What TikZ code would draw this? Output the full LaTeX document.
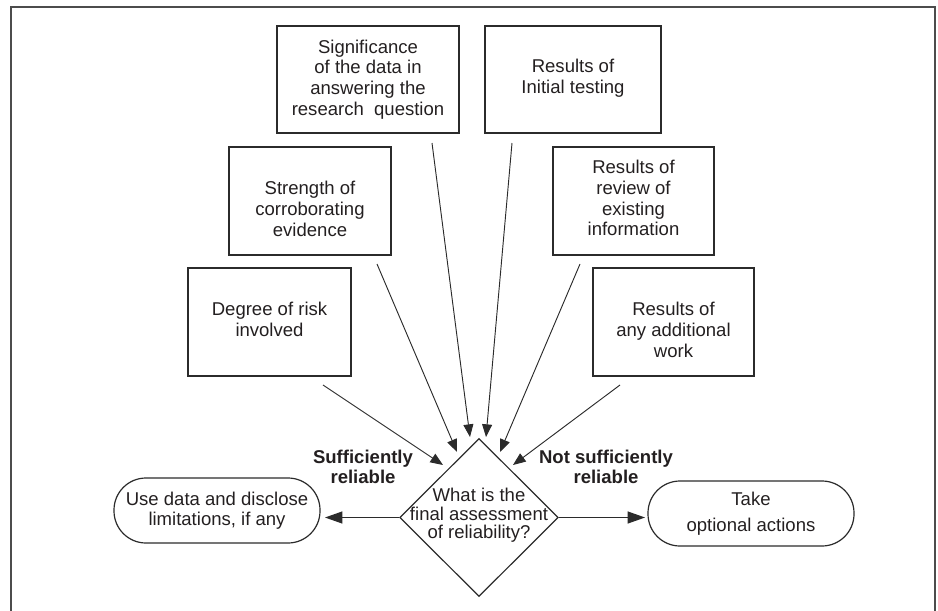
\documentclass[tikz,border=0pt]{standalone}
\usepackage{fontspec}
\setmainfont{Liberation Sans}
\usetikzlibrary{shapes.geometric,arrows.meta}
\definecolor{ink}{HTML}{231F20}
\definecolor{linec}{HTML}{2B2B2B}
\begin{document}
\begin{tikzpicture}[x=0.75pt,y=-0.75pt,
  box/.style={draw=linec,line width=0.9pt,inner sep=0pt},
  term/.style={draw=linec,line width=0.9pt,rounded corners=24pt,minimum width=154.5pt,minimum height=48.75pt,inner sep=0pt,align=center,text=ink,font=\fontsize{13.9}{15}\selectfont},
  txt/.style={inner sep=0pt,align=center,text=ink,font=\fontsize{13.9}{15.5}\selectfont},
  lbl/.style={inner sep=0pt,align=center,text=ink,font=\fontsize{13.9}{15}\selectfont\bfseries},
  arr/.style={draw=linec,line width=0.7pt,-{Triangle[length=9.5pt,width=7.5pt]}},
  harr/.style={draw=linec,line width=0.8pt,-{Triangle[length=13pt,width=9pt]}}]
\useasboundingbox (0,0) rectangle (938,610);
% frame
\draw[line width=1.2pt,color=black!70] (11,614) -- (11,7) -- (935,7) -- (935,614);

% boxes
\node[box,minimum width=136.5pt,minimum height=80.25pt] (sig) at (368,79.5) {};
\node[box,minimum width=132pt,minimum height=80.25pt] (init) at (573,79.5) {};
\node[box,minimum width=121.5pt,minimum height=81pt] (str) at (310,201) {};
\node[box,minimum width=120.75pt,minimum height=81pt] (rev) at (633.5,201) {};
\node[box,minimum width=122.25pt,minimum height=81pt] (deg) at (269.5,322) {};
\node[box,minimum width=120.75pt,minimum height=81pt] (add) at (673.5,322) {};

\node[txt] (sigt) at (sig.center) {Significance\\of the data in\\answering the\\research~~question};
\node[txt] (initt) at ([yshift=1pt]init.center) {Results of\\Initial testing};
\node[txt] (strt) at ([yshift=-6pt]str.center) {Strength of\\corroborating\\evidence};
\node[txt] (revt) at ([yshift=2pt]rev.center) {Results of\\review of\\existing\\information};
\node[txt] (degt) at ([yshift=2pt]deg.center) {Degree of risk\\involved};
\node[txt] (addt) at ([yshift=-6pt]add.center) {Results of\\any additional\\work};

% decision
\node[diamond,draw=linec,line width=0.9pt,minimum width=119pt,minimum height=118.5pt,inner sep=0pt] (dec) at (479,517.5) {};
\node[txt,font=\fontsize{13.9}{13.9}\selectfont] (dect) at ([yshift=1.5pt]dec.center) {What is the\\final assessment\\of reliability?};

% terminals
\node[term] (use) at (217,510.5) {Use data and disclose\\limitations, if any};
\node[term] (take) at (751,513.5) {Take\\[4.5pt]optional actions};

% labels
\node[lbl] (suf) at (363,467) {Sufficiently\\reliable};
\node[lbl] (nsuf) at (606,467) {Not sufficiently\\reliable};

% arrow end points
\coordinate (degS) at (323,385);  \coordinate (degE) at (443,465);
\coordinate (strS) at (377,264);  \coordinate (strE) at (457,452);
\coordinate (sigS) at (432,143);  \coordinate (sigE) at (470,437);
\coordinate (initS) at (512,143); \coordinate (initE) at (486,437);
\coordinate (revS) at (580,264);  \coordinate (revE) at (500,452);
\coordinate (addS) at (620,385);  \coordinate (addE) at (513,465);
\coordinate (useE) at (325,517.5);
\coordinate (takeE) at (645,517.5);

\draw[arr] (degS) -- (degE);
\draw[arr] (strS) -- (strE);
\draw[arr] (sigS) -- (sigE);
\draw[arr] (initS) -- (initE);
\draw[arr] (revS) -- (revE);
\draw[arr] (addS) -- (addE);
\draw[harr] (dec.west) -- (useE);
\draw[harr] (dec.east) -- (takeE);
\end{tikzpicture}
\end{document}
